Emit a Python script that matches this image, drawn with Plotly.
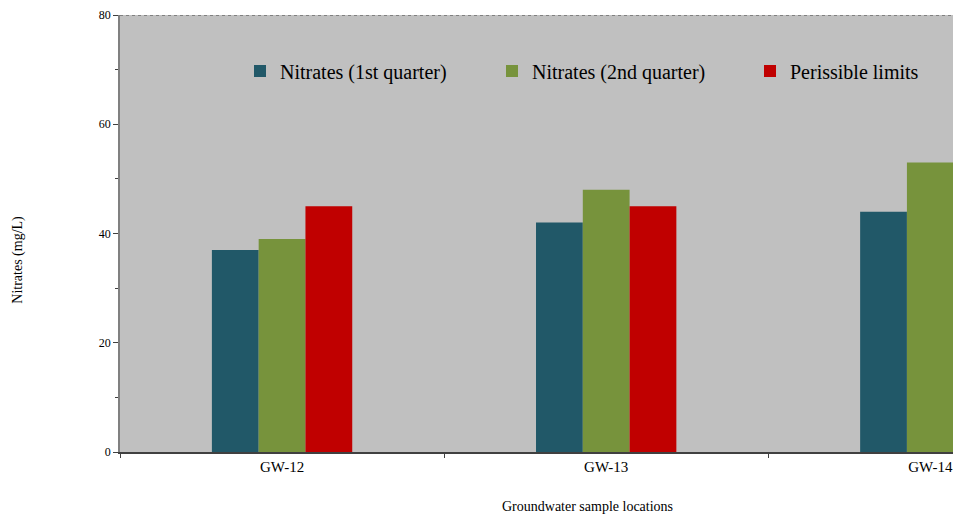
import plotly.graph_objects as go

locations = ["GW-12", "GW-13", "GW-14"]
nitrates_q1 = [37, 42, 44]
nitrates_q2 = [39, 48, 53]
permissible = [45, 45, 45]

series_names = ["Nitrates (1st quarter)", "Nitrates (2nd quarter)", "Perissible limits"]
series_colors = ["#215868", "#77933C", "#C00000"]
legend_ids = ["legend", "legend2", "legend3"]
legend_left_px = [240, 492, 750]
y_ticks = [0, 20, 40, 60, 80]

SERIF = "Liberation Serif, Times New Roman, serif"
PLOT_L, PLOT_W = 120, 833

fig = go.Figure()
for name, vals, col, lid in zip(series_names, [nitrates_q1, nitrates_q2, permissible],
                                series_colors, legend_ids):
    fig.add_trace(go.Bar(x=locations, y=vals, name=name, legend=lid,
                         marker=dict(color=col, line=dict(width=0))))

legend_common = dict(
    orientation="h",
    yanchor="middle", y=0.872,
    xanchor="left",
    bgcolor="rgba(0,0,0,0)",
    borderwidth=0,
    font=dict(family=SERIF, size=20, color="#000000"),
)
legends = {}
for lid, lx in zip(legend_ids, legend_left_px):
    legends[lid] = dict(legend_common, x=(lx - PLOT_L) / PLOT_W)

fig.update_layout(
    width=953, height=521,
    margin=dict(l=120, r=0, t=15, b=69),
    paper_bgcolor="white",
    plot_bgcolor="#C0C0C0",
    barmode="group",
    bargap=0.567,
    bargroupgap=0,
    font=dict(family=SERIF, color="#000000"),
    showlegend=True,
    **legends,
)

fig.update_xaxes(
    range=[-0.5, 2.07],
    showgrid=False,
    showline=True, linecolor="#404040", linewidth=1.5,
    ticks="outside", tickson="boundaries", ticklen=4, tickcolor="#404040",
    tickfont=dict(family=SERIF, size=15, color="#000000"),
    zeroline=False,
)
fig.update_yaxes(
    range=[0, 80],
    tickvals=y_ticks,
    showgrid=False,
    showline=True, linecolor="#808080", linewidth=1.5,
    ticks="outside", ticklen=5, tickcolor="#404040",
    minor=dict(ticks="outside", ticklen=3, dtick=10, tickcolor="#404040"),
    tickfont=dict(family=SERIF, size=12, color="#000000"),
    zeroline=False,
)

# dashed top border of plot area
fig.add_shape(type="line", xref="paper", yref="y", x0=0, x1=1, y0=80, y1=80,
              line=dict(color="#404040", width=1, dash="dot"))

fig.add_annotation(text="Nitrates (mg/L)", xref="paper", yref="paper",
                   x=(18 - PLOT_L) / PLOT_W, xanchor="center", y=0.44, yanchor="middle",
                   textangle=-90, showarrow=False,
                   font=dict(family=SERIF, size=14, color="#000000"))
fig.add_annotation(text="Groundwater sample locations", xref="paper", yref="paper",
                   x=(587 - PLOT_L) / PLOT_W, xanchor="center", y=-0.125, yanchor="middle",
                   showarrow=False,
                   font=dict(family=SERIF, size=14, color="#000000"))

fig.write_html("out.html")
